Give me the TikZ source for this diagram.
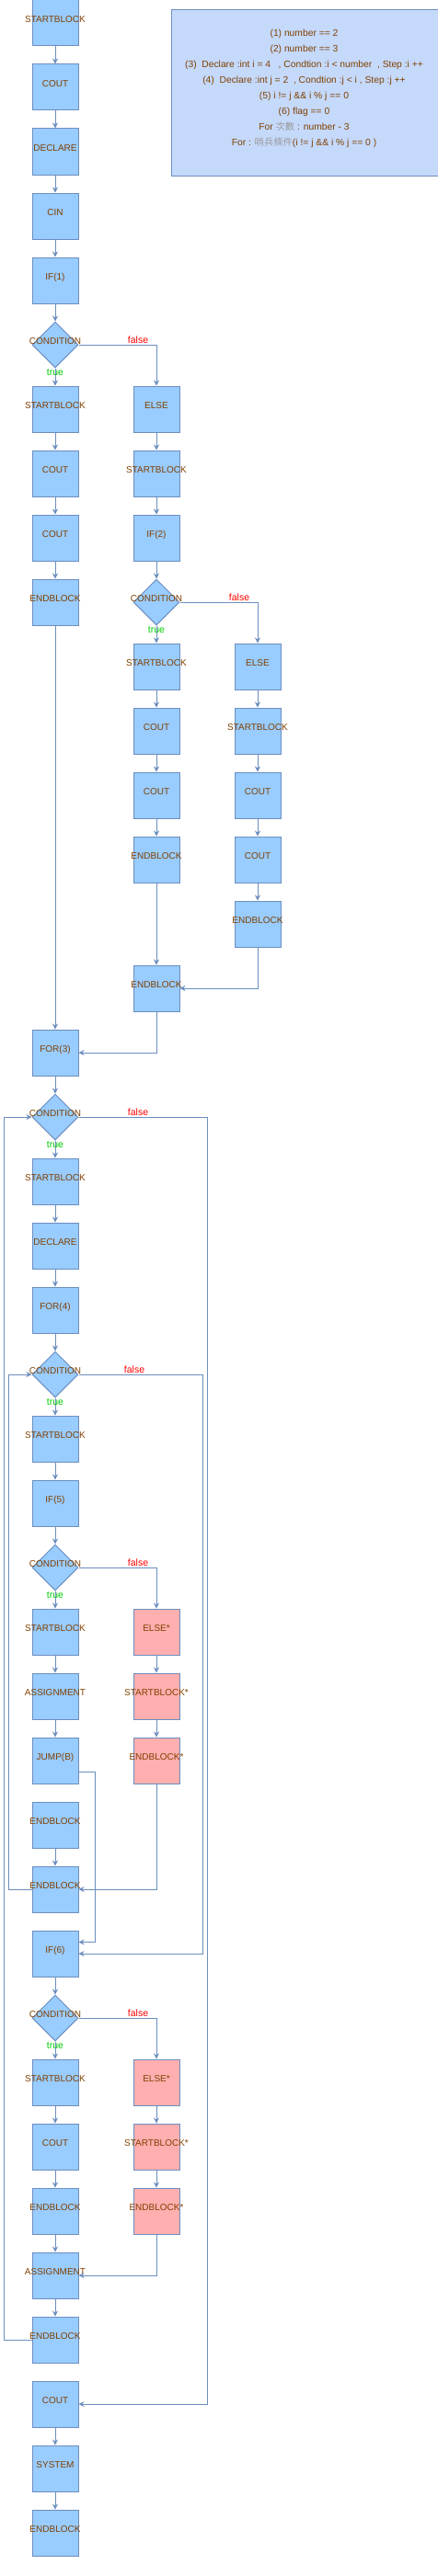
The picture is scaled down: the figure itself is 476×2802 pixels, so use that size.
\documentclass[tikz,border=0pt]{standalone}
\usepackage{fontspec}
\setmainfont{Liberation Sans}
\newfontfamily\cjkfont{Noto Sans CJK TC}
\usetikzlibrary{shapes.geometric,arrows.meta}
\definecolor{edgeblue}{HTML}{6C8EBF}
\definecolor{boxblue}{HTML}{99CCFF}
\definecolor{boxpink}{HTML}{FFAFAF}
\definecolor{infofill}{HTML}{C5D9FB}
\definecolor{txtbrown}{HTML}{7F4000}
\definecolor{cjkgray}{HTML}{9A9A9A}
\definecolor{truegreen}{HTML}{00CC00}
\definecolor{falsered}{HTML}{FF0000}
\newcommand\bx[1]{\raisebox{0.8pt}[0pt][0pt]{\makebox[0pt]{#1}}}
\newcommand\cj[1]{{\cjkfont\color{cjkgray}#1}}
\begin{document}
\begin{tikzpicture}[x=1pt,y=-1pt,
  blk/.style={draw=edgeblue, fill=boxblue, line width=1pt, minimum width=50pt, minimum height=50pt, inner sep=0pt, text=txtbrown, font=\fontsize{10}{12}\selectfont},
  pblk/.style={blk, fill=boxpink},
  cond/.style={blk, diamond, aspect=1},
  arr/.style={draw=edgeblue, line width=1pt, -{Stealth[length=6pt,width=6pt,inset=2pt]}},
  ln/.style={draw=edgeblue, line width=1pt},
  tlab/.style={text=truegreen, inner sep=0pt, font=\fontsize{10.5}{12}\selectfont},
  flab/.style={text=falsered, inner sep=0pt, font=\fontsize{10.5}{12}\selectfont},
  infobox/.style={draw=edgeblue, fill=infofill, line width=1pt, minimum width=290pt, minimum height=180pt, inner sep=0pt, anchor=north west},
  infotext/.style={text=txtbrown, align=center, inner sep=0pt, font=\fontsize{10.3}{17}\selectfont}]
\useasboundingbox (0,0) rectangle (476,2802);

% info box
\node[infobox] (ibox) at (185.5,10.5) {};
\node[infotext] (itext) at (330.5,96) {(1) number == 2\\
(2) number == 3\\
(3)\ \ Declare :int i = 4\ \ \ , Condtion :i < number\ \ , Step :i ++\\
(4)\ \ Declare :int j = 2\ \ , Condtion :j < i , Step :j ++\\
(5) i != j \&\& i \% j == 0\\
(6) flag == 0\\
For \cj{次數} : number - 3\\
For : \cj{哨兵條件}(i != j \&\& i \% j == 0 )};

% column 0 main
\node[blk] (n0) at (60,25) {\bx{STARTBLOCK}};
\node[blk] (n1) at (60,95) {\bx{COUT}};
\node[blk] (n2) at (60,165) {\bx{DECLARE}};
\node[blk] (n3) at (60,235) {\bx{CIN}};
\node[blk] (n4) at (60,305) {\bx{IF(1)}};
\node[cond] (d5) at (60,375) {\bx{CONDITION}};
\node[blk] (n6) at (60,445) {\bx{STARTBLOCK}};
\node[blk] (n7) at (60,515) {\bx{COUT}};
\node[blk] (n8) at (60,585) {\bx{COUT}};
\node[blk] (n9) at (60,655) {\bx{ENDBLOCK}};
% column 1 (else of 1)
\node[blk] (e6) at (170,445) {\bx{ELSE}};
\node[blk] (e7) at (170,515) {\bx{STARTBLOCK}};
\node[blk] (e8) at (170,585) {\bx{IF(2)}};
\node[cond] (d9) at (170,655) {\bx{CONDITION}};
\node[blk] (t10) at (170,725) {\bx{STARTBLOCK}};
\node[blk] (t11) at (170,795) {\bx{COUT}};
\node[blk] (t12) at (170,865) {\bx{COUT}};
\node[blk] (t13) at (170,935) {\bx{ENDBLOCK}};
\node[blk] (e15) at (170,1075) {\bx{ENDBLOCK}};
% column 2
\node[blk] (f10) at (280,725) {\bx{ELSE}};
\node[blk] (f11) at (280,795) {\bx{STARTBLOCK}};
\node[blk] (f12) at (280,865) {\bx{COUT}};
\node[blk] (f13) at (280,935) {\bx{COUT}};
\node[blk] (f14) at (280,1005) {\bx{ENDBLOCK}};
% loops
\node[blk] (n16) at (60,1145) {\bx{FOR(3)}};
\node[cond] (d17) at (60,1215) {\bx{CONDITION}};
\node[blk] (n18) at (60,1285) {\bx{STARTBLOCK}};
\node[blk] (n19) at (60,1355) {\bx{DECLARE}};
\node[blk] (n20) at (60,1425) {\bx{FOR(4)}};
\node[cond] (d21) at (60,1495) {\bx{CONDITION}};
\node[blk] (n22) at (60,1565) {\bx{STARTBLOCK}};
\node[blk] (n23) at (60,1635) {\bx{IF(5)}};
\node[cond] (d24) at (60,1705) {\bx{CONDITION}};
\node[blk] (n25) at (60,1775) {\bx{STARTBLOCK}};
\node[blk] (n26) at (60,1845) {\bx{ASSIGNMENT}};
\node[blk] (n27) at (60,1915) {\bx{JUMP(B)}};
\node[blk] (n28) at (60,1985) {\bx{ENDBLOCK}};
\node[blk] (n29) at (60,2055) {\bx{ENDBLOCK}};
\node[pblk] (p25) at (170,1775) {\bx{ELSE*}};
\node[pblk] (p26) at (170,1845) {\bx{STARTBLOCK*}};
\node[pblk] (p27) at (170,1915) {\bx{ENDBLOCK*}};
\node[blk] (n30) at (60,2125) {\bx{IF(6)}};
\node[cond] (d31) at (60,2195) {\bx{CONDITION}};
\node[blk] (n32) at (60,2265) {\bx{STARTBLOCK}};
\node[blk] (n33) at (60,2335) {\bx{COUT}};
\node[blk] (n34) at (60,2405) {\bx{ENDBLOCK}};
\node[blk] (n35) at (60,2475) {\bx{ASSIGNMENT}};
\node[blk] (n36) at (60,2545) {\bx{ENDBLOCK}};
\node[pblk] (p32) at (170,2265) {\bx{ELSE*}};
\node[pblk] (p33) at (170,2335) {\bx{STARTBLOCK*}};
\node[pblk] (p34) at (170,2405) {\bx{ENDBLOCK*}};
\node[blk] (n37) at (60,2615) {\bx{COUT}};
\node[blk] (n38) at (60,2685) {\bx{SYSTEM}};
\node[blk] (n39) at (60,2755) {\bx{ENDBLOCK}};

% straight arrows
\foreach \a/\b in {n0/n1,n1/n2,n2/n3,n3/n4,n4/d5,d5/n6,n6/n7,n7/n8,n8/n9,n9/n16,
  e6/e7,e7/e8,e8/d9,d9/t10,t10/t11,t11/t12,t12/t13,t13/e15,
  f10/f11,f11/f12,f12/f13,f13/f14,
  n16/d17,d17/n18,n18/n19,n19/n20,n20/d21,d21/n22,n22/n23,n23/d24,d24/n25,
  n25/n26,n26/n27,n28/n29,p25/p26,p26/p27,
  n30/d31,d31/n32,n32/n33,n33/n34,n34/n35,n35/n36,p32/p33,p33/p34,
  n37/n38,n38/n39}
  \draw[arr] (\a.south) -- (\b.north);

% false branches
\draw[arr] (d5.east) -| (e6.north);
\draw[arr] (d9.east) -| (f10.north);
\draw[arr] (d24.east) -| (p25.north);
\draw[arr] (d31.east) -| (p32.north);
\draw[arr] (d17.east) -- ++(140,0) |- (n37.east);
\draw[arr] (d21.east) -- ++(135,0) |- (n30.east);
% merges
\draw[arr] (f14.south) |- (e15.east);
\draw[arr] (e15.south) |- (n16.east);
\draw[arr] (p27.south) |- (n29.east);
\draw[arr] (p34.south) |- (n35.east);
\draw[arr] ([yshift=-12.5pt]n27.east) -- ++(18,0) |- ([yshift=12.5pt]n30.east);
% loop backs
\draw[arr] (n36.west) -- ++(-30,0) |- (d17.west);
\draw[arr] (n29.west) -- ++(-25,0) |- (d21.west);

% labels
\foreach \d/\x/\y in {d5/60/375,d9/170/655,d17/60/1215,d21/60/1495,d24/60/1705,d31/60/2195}{
  \node[tlab] (\d t) at (\x,\y+30) {true};
}
\node[flab] (d5f) at (150,370) {false};
\node[flab] (d9f) at (260,650) {false};
\node[flab] (d17f) at (150,1210) {false};
\node[flab] (d21f) at (146,1490) {false};
\node[flab] (d24f) at (150,1700) {false};
\node[flab] (d31f) at (150,2190) {false};
\end{tikzpicture}
\end{document}
